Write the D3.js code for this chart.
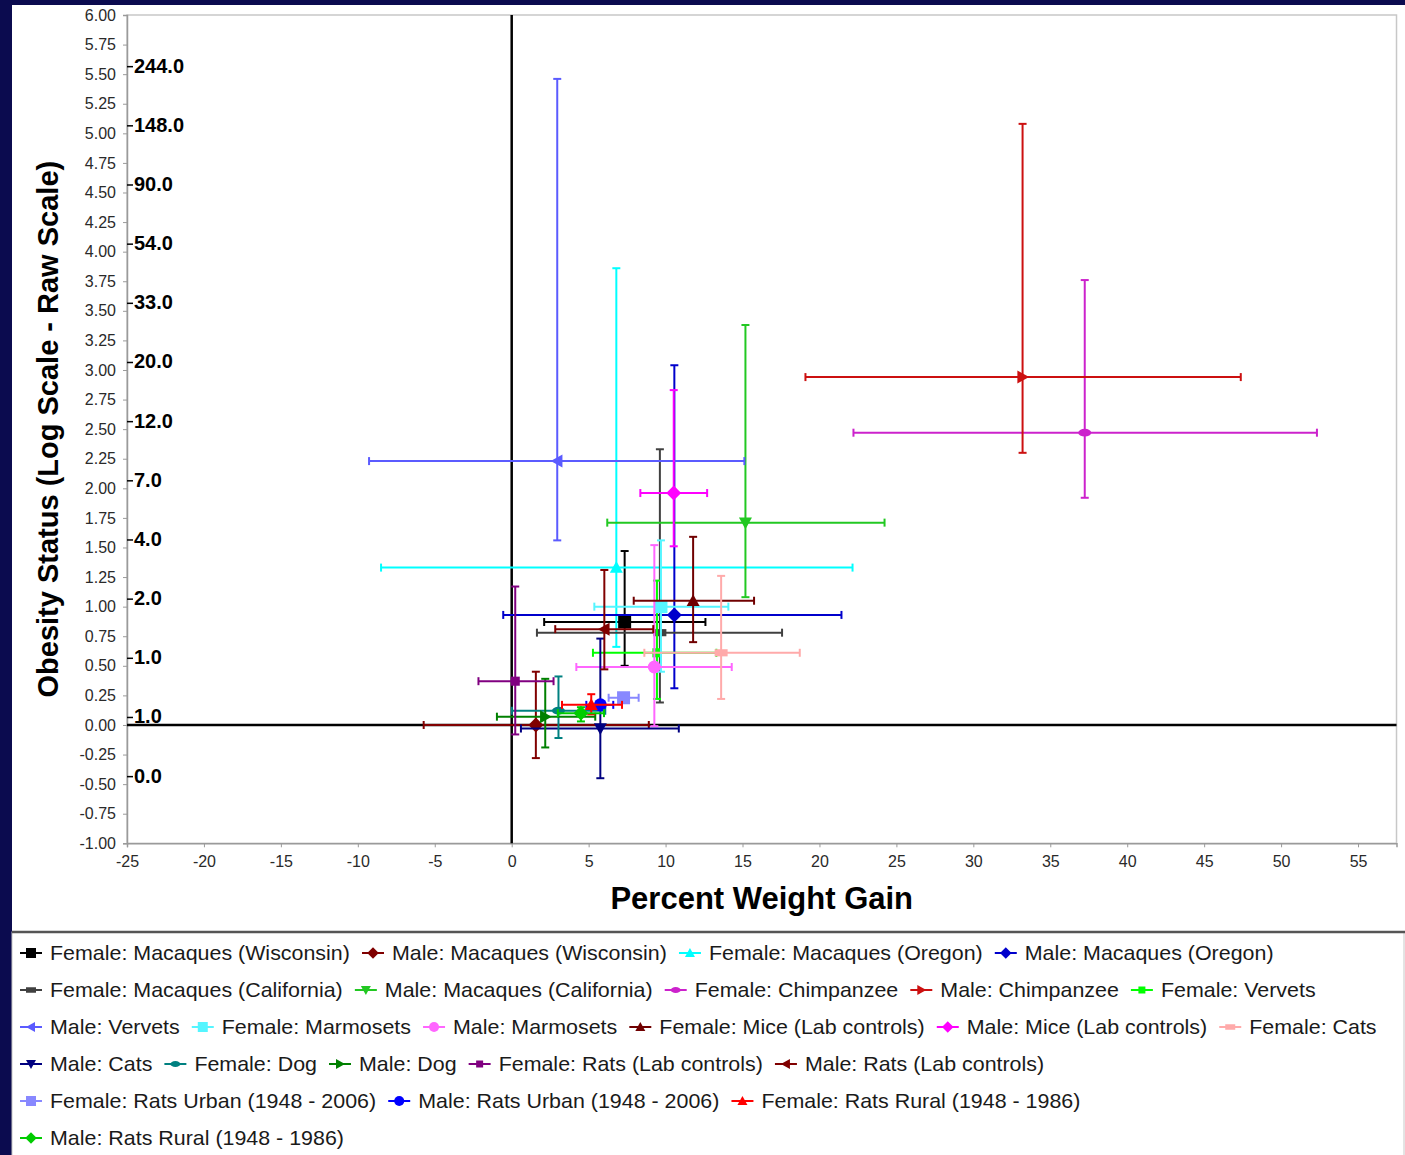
<!DOCTYPE html>
<html>
<head>
<meta charset="utf-8">
<script src="https://cdn.jsdelivr.net/npm/d3@7"></script>
<style>
  html, body { margin: 0; padding: 0; background: #ffffff; }
  svg { display: block; }
  text { font-family: "Liberation Sans", Arial, Helvetica, sans-serif; }
</style>
</head>
<body>
<svg id="chart" width="1405" height="1155"></svg>
<script>
// ---- Series definitions (legend order = drawing order) ----
const seriesNames = [
  "Female: Macaques (Wisconsin)", "Male: Macaques (Wisconsin)",
  "Female: Macaques (Oregon)", "Male: Macaques (Oregon)",
  "Female: Macaques (California)", "Male: Macaques (California)",
  "Female: Chimpanzee", "Male: Chimpanzee",
  "Female: Vervets", "Male: Vervets",
  "Female: Marmosets", "Male: Marmosets",
  "Female: Mice (Lab controls)", "Male: Mice (Lab controls)",
  "Female: Cats", "Male: Cats",
  "Female: Dog", "Male: Dog",
  "Female: Rats (Lab controls)", "Male: Rats (Lab controls)",
  "Female: Rats Urban (1948 - 2006)", "Male: Rats Urban (1948 - 2006)",
  "Female: Rats Rural (1948 - 1986)", "Male: Rats Rural (1948 - 1986)"
];
const seriesColors = [
  "#000000", "#800000", "#00FFFF", "#0000CC",
  "#404040", "#22C822", "#CC22CC", "#CC1010",
  "#00FF00", "#5B5BFF", "#55F5FF", "#FF66FF",
  "#700000", "#FF00FF", "#FFAAAA", "#000080",
  "#008080", "#008000", "#800080", "#800000",
  "#8888FF", "#0000FF", "#FF0000", "#00CC00"
];
const seriesShapes = [
  "square", "diamond", "triUp", "diamond",
  "dash", "triDown", "ellipse", "triRight",
  "plus", "triLeft", "square", "circle",
  "triUp", "diamond", "dash", "triDown",
  "ellipse", "triRight", "plus", "triLeft",
  "square", "circle", "triUp", "diamond"
];

// Percent weight gain: mean and error-bar ends
const xMean = [7.34, 1.57, 6.80, 10.57, 9.63, 15.19, 37.24, 33.20, 9.44, 2.96, 9.70, 9.27,
               11.79, 10.53, 13.61, 5.76, 3.04, 2.18, 0.23, 6.02, 7.27, 5.76, 5.17, 4.50];
const xLow  = [2.11, -5.72, -8.49, -0.55, 1.64, 6.21, 22.21, 19.09, 5.28, -9.27, 5.37, 4.20,
               7.93, 8.36, 8.62, 0.60, 0.01, -0.96, -2.16, 2.83, 6.30, 4.85, 3.27, 3.00];
const xHigh = [12.59, 8.91, 22.15, 21.43, 17.57, 24.23, 52.33, 47.38, 13.30, 15.12, 14.08, 14.30,
               15.75, 12.70, 18.72, 10.86, 6.08, 5.43, 2.72, 9.20, 8.25, 6.60, 7.17, 6.00];

// Obesity status (log scale): mean and error-bar ends
const yMean = [0.87, 0.00, 1.33, 0.93, 0.78, 1.71, 2.47, 2.94, 0.61, 2.23, 1.00, 0.49,
               1.05, 1.96, 0.61, -0.03, 0.12, 0.07, 0.37, 0.81, 0.23, 0.17, 0.17, 0.10];
const yLow  = [0.50, -0.28, 0.66, 0.31, 0.19, 1.08, 1.92, 2.30, 0.22, 1.56, 0.45, -0.01,
               0.70, 1.51, 0.22, -0.45, -0.11, -0.19, -0.08, 0.47, 0.23, 0.17, 0.09, 0.03];
const yHigh = [1.47, 0.45, 3.86, 3.04, 2.33, 3.38, 3.76, 5.08, 1.22, 5.46, 1.56, 1.52,
               1.59, 2.83, 1.26, 0.73, 0.41, 0.39, 1.17, 1.31, 0.23, 0.17, 0.26, 0.15];

// Axis ticks
const xTicks = [-25, -20, -15, -10, -5, 0, 5, 10, 15, 20, 25, 30, 35, 40, 45, 50, 55];
const yTicks = [-1, -0.75, -0.5, -0.25, 0, 0.25, 0.5, 0.75, 1, 1.25, 1.5, 1.75, 2, 2.25,
                2.5, 2.75, 3, 3.25, 3.5, 3.75, 4, 4.25, 4.5, 4.75, 5, 5.25, 5.5, 5.75, 6];

// Raw-scale annotations beside the log axis
const rawScaleAt     = [5.5, 5.0, 4.5, 4.0, 3.5, 3.0, 2.5, 2.0, 1.5, 1.0, 0.5, 0.0, -0.5];
const rawScaleLabels = ["244.0", "148.0", "90.0", "54.0", "33.0", "20.0", "12.0", "7.0",
                        "4.0", "2.0", "1.0", "1.0", "0.0"];

// ---- Layout ----
const W = 1405, H = 1155;
const plot = { left: 127, top: 15, right: 1396.5, bottom: 843.3 };

const svg = d3.select("#chart");
svg.append("rect").attr("width", W).attr("height", H).attr("fill", "#0b0b4f");
svg.append("rect").attr("x", 12).attr("y", 5).attr("width", W - 12).attr("height", H - 5)
  .attr("fill", "#ffffff");

const x = d3.scaleLinear().domain([-25, 57.5]).range([plot.left, plot.right]);
const y = d3.scaleLinear().domain([-1, 6]).range([plot.bottom, plot.top]);

// Plot frame
svg.append("rect")
  .attr("x", plot.left).attr("y", plot.top)
  .attr("width", plot.right - plot.left).attr("height", plot.bottom - plot.top)
  .attr("fill", "#ffffff").attr("stroke", "#c8c8c8").attr("stroke-width", 1.5);

// Axes
const yAxis = svg.append("g").attr("transform", `translate(${plot.left},0)`)
  .call(d3.axisLeft(y).tickValues(yTicks).tickFormat(d => d.toFixed(2)).tickSize(4).tickPadding(7));
const xAxis = svg.append("g").attr("transform", `translate(0,${plot.bottom})`)
  .call(d3.axisBottom(x).tickValues(xTicks).tickFormat(d => String(d)).tickSize(4).tickPadding(8));
[yAxis, xAxis].forEach(g => {
  g.select(".domain").attr("stroke", "#9a9a9a").attr("stroke-width", 1.5);
  g.selectAll(".tick line").attr("stroke", "#9a9a9a");
  g.selectAll(".tick text").attr("fill", "#2a2a2a").style("font-size", "16px");
});

// Zero reference lines
svg.append("line").attr("x1", x(0)).attr("x2", x(0)).attr("y1", plot.top).attr("y2", plot.bottom)
  .attr("stroke", "#000000").attr("stroke-width", 2.5);
svg.append("line").attr("x1", plot.left).attr("x2", plot.right).attr("y1", y(0)).attr("y2", y(0))
  .attr("stroke", "#000000").attr("stroke-width", 2.5);

// Raw-scale annotations
const rawG = svg.append("g");
rawScaleAt.forEach((v, i) => {
  const cy = y(v) - 8.5;
  rawG.append("line").attr("x1", plot.left).attr("x2", plot.left + 6)
    .attr("y1", cy + 1).attr("y2", cy + 1).attr("stroke", "#000").attr("stroke-width", 1.5);
  rawG.append("text").attr("x", plot.left + 7).attr("y", cy)
    .attr("dominant-baseline", "central")
    .style("font-size", "20px").style("font-weight", "bold").attr("fill", "#000")
    .text(rawScaleLabels[i]);
});

// Marker shapes
function markerPath(shape, s) {
  const h = s / 2;
  switch (shape) {
    case "square":  return `M${-h},${-h}H${h}V${h}H${-h}Z`;
    case "diamond": { const d = h * 1.15; return `M0,${-d}L${d},0L0,${d}L${-d},0Z`; }
    case "triUp":   return `M0,${-h}L${h},${h * 0.8}L${-h},${h * 0.8}Z`;
    case "triDown": return `M0,${h}L${h},${-h * 0.8}L${-h},${-h * 0.8}Z`;
    case "triLeft": return `M${-h},0L${h * 0.8},${-h}L${h * 0.8},${h}Z`;
    case "triRight":return `M${h},0L${-h * 0.8},${-h}L${-h * 0.8},${h}Z`;
    case "circle":  return `M${h},0A${h},${h} 0 1,1 ${-h},0A${h},${h} 0 1,1 ${h},0Z`;
    case "ellipse": { const r = h * 0.6; return `M${h},0A${h},${r} 0 1,1 ${-h},0A${h},${r} 0 1,1 ${h},0Z`; }
    case "dash":    { const r = h * 0.55; return `M${-h},${-r}H${h}V${r}H${-h}Z`; }
    case "plus":    { const q = h * 0.7; return `M${-q},${-q}H${q}V${q}H${-q}Z`; }
  }
  return "";
}

// Error bars and markers, series by series
const cap = 4;
const plotG = svg.append("g");
seriesNames.forEach((name, i) => {
  const g = plotG.append("g").attr("class", "series");
  const c = seriesColors[i];
  const px = x(xMean[i]), py = y(yMean[i]);
  // horizontal bar
  if (xLow[i] !== xHigh[i]) {
    g.append("line").attr("x1", x(xLow[i])).attr("x2", x(xHigh[i])).attr("y1", py).attr("y2", py)
      .attr("stroke", c).attr("stroke-width", 2);
    [xLow[i], xHigh[i]].forEach(v => g.append("line")
      .attr("x1", x(v)).attr("x2", x(v)).attr("y1", py - cap).attr("y2", py + cap)
      .attr("stroke", c).attr("stroke-width", 2));
  }
  // vertical bar
  if (yLow[i] !== yHigh[i]) {
    g.append("line").attr("x1", px).attr("x2", px).attr("y1", y(yLow[i])).attr("y2", y(yHigh[i]))
      .attr("stroke", c).attr("stroke-width", 2);
    [yLow[i], yHigh[i]].forEach(v => g.append("line")
      .attr("x1", px - cap).attr("x2", px + cap).attr("y1", y(v)).attr("y2", y(v))
      .attr("stroke", c).attr("stroke-width", 2));
  }
  g.append("path").attr("d", markerPath(seriesShapes[i], 13))
    .attr("transform", `translate(${px},${py})`).attr("fill", c);
});

// Axis titles
svg.append("text").attr("x", (plot.left + plot.right) / 2).attr("y", 898)
  .attr("text-anchor", "middle").attr("dominant-baseline", "central")
  .style("font-size", "31px").style("font-weight", "bold").attr("fill", "#000")
  .text("Percent Weight Gain");
svg.append("text").attr("transform", `translate(48,${(plot.top + plot.bottom) / 2}) rotate(-90)`)
  .attr("text-anchor", "middle").attr("dominant-baseline", "central")
  .style("font-size", "29px").style("font-weight", "bold").attr("fill", "#000")
  .text("Obesity Status (Log Scale - Raw Scale)");

// Legend box
const legTop = 932;
svg.append("rect").attr("x", 12).attr("y", legTop).attr("width", W - 13).attr("height", H - legTop + 5)
  .attr("fill", "#ffffff").attr("stroke", "#c8c8c8").attr("stroke-width", 1);
svg.append("line").attr("x1", 12).attr("x2", W).attr("y1", legTop).attr("y2", legTop)
  .attr("stroke", "#555555").attr("stroke-width", 2.5);

const legG = svg.append("g");
const legStretch = 1.02;
const symW = 22, textOff = 30, itemGap = 12;
let lx = 20, row = 0;
const rowY0 = 953, rowStep = 37, maxX = 1400;
seriesNames.forEach((name, i) => {
  const t = legG.append("text").style("font-size", "21px").attr("fill", "#1a1a1a")
    .attr("dominant-baseline", "central").text(name);
  const tw = t.node().getComputedTextLength() * legStretch;
  if (lx + textOff + tw > maxX) { row += 1; lx = 20; }
  const cy = rowY0 + row * rowStep;
  t.attr("transform", `translate(${lx + textOff},${cy}) scale(${legStretch},1)`);
  legG.append("line").attr("x1", lx).attr("x2", lx + symW).attr("y1", cy).attr("y2", cy)
    .attr("stroke", seriesColors[i]).attr("stroke-width", 2);
  legG.append("path").attr("d", markerPath(seriesShapes[i], 10))
    .attr("transform", `translate(${lx + symW / 2},${cy})`).attr("fill", seriesColors[i]);
  lx = lx + textOff + tw + itemGap;
});
</script>
</body>
</html>
